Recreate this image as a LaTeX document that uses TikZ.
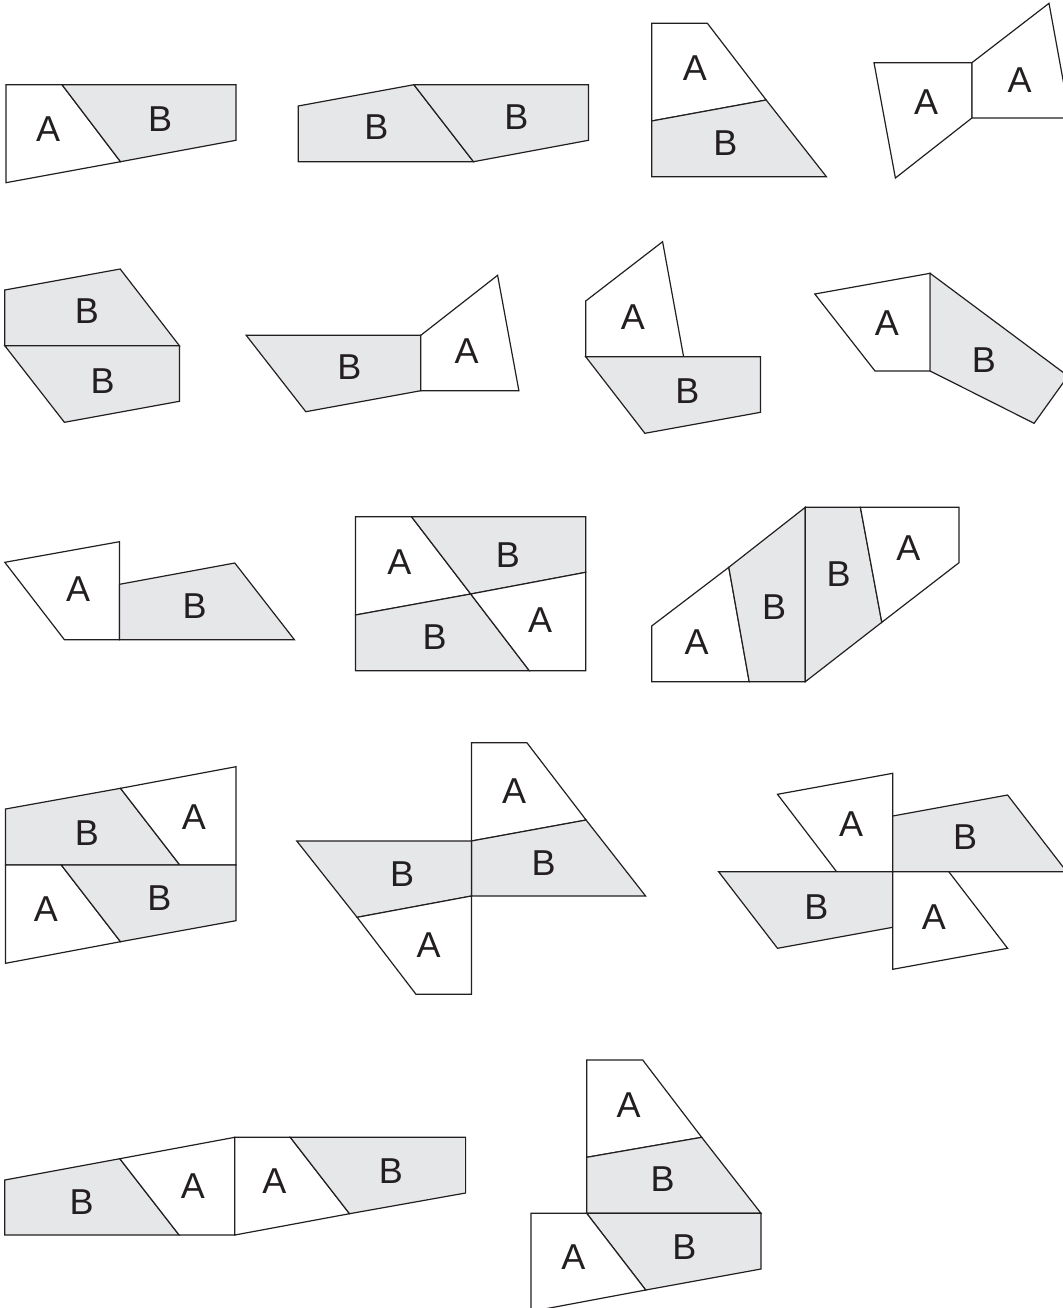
\documentclass[tikz,border=0pt]{standalone}
\usepackage{fontspec}
\setmainfont{Liberation Sans}
\usepackage{xcolor}
\usepackage{tikz}
\definecolor{pieceGrey}{RGB}{230,231,233}
\definecolor{inkDark}{RGB}{35,31,32}

\begin{document}
\begin{tikzpicture}[x=0.5pt, y=-0.5pt, line join=miter,
  pieceA/.style={draw=inkDark, line width=0.6pt, fill=white},
  pieceB/.style={draw=inkDark, line width=0.6pt, fill=pieceGrey},
  lbl/.style={text=inkDark, inner sep=0pt, font=\fontsize{18}{20}\selectfont}]
  \useasboundingbox (0,0) rectangle (1063,1308);
  % row 1
  \draw[pieceA] (5.9,84.7) -- (62,84.7) -- (120.5,161.7) -- (5.9,182.7) -- cycle;
  \draw[pieceB] (62,84.7) -- (235.9,84.7) -- (235.9,140.3) -- (120.5,161.7) -- cycle;
  \node[lbl] (r1a) at (48.2,129.3) {A}; \node[lbl] (r1b) at (160.1,119) {B};
  \draw[pieceB] (298.2,106) -- (413.9,84.7) -- (473.5,161.7) -- (298.2,161.7) -- cycle;
  \draw[pieceB] (413.9,84.7) -- (588.5,84.7) -- (588.5,140.3) -- (473.5,161.7) -- cycle;
  \node[lbl] (r2b) at (376.4,127.3) {B}; \node[lbl] (r2c) at (516.5,117.3) {B};
  \draw[pieceA] (651.7,23.3) -- (707.4,23.3) -- (766.2,100) -- (651.7,121) -- cycle;
  \draw[pieceB] (651.7,121) -- (766.2,100) -- (826.4,176.7) -- (651.7,176.7) -- cycle;
  \node[lbl] (r3a) at (694.9,68.3) {A}; \node[lbl] (r3b) at (725.4,143.3) {B};
  \draw[pieceA] (874,62.7) -- (971.9,62.7) -- (971.9,118) -- (895.4,178) -- cycle;
  \draw[pieceA] (971.9,62.7) -- (1049,3.3) -- (1070,118) -- (971.9,118) -- cycle;
  \node[lbl] (r4a) at (926,101.7) {A}; \node[lbl] (r4c) at (1019.5,80) {A};
  % row 2
  \draw[pieceB] (4.8,290) -- (120.2,269) -- (179.4,345.7) -- (4.8,345.7) -- cycle;
  \draw[pieceB] (4.8,345.7) -- (179.4,345.7) -- (179.4,401.3) -- (64.4,422.3) -- cycle;
  \node[lbl] (r5b) at (86.8,310.7) {B}; \node[lbl] (r5c) at (102.6,380.7) {B};
  \draw[pieceB] (246.2,335.3) -- (420.8,335.3) -- (420.8,390.7) -- (305.8,411.7) -- cycle;
  \draw[pieceA] (420.8,335.3) -- (497.6,275.3) -- (518.9,390.7) -- (420.8,390.7) -- cycle;
  \node[lbl] (r6b) at (349.5,367.3) {B}; \node[lbl] (r6a) at (466.6,350.7) {A};
  \draw[pieceA] (585.7,356.7) -- (585.7,301) -- (662.6,241.7) -- (683.6,356.7) -- cycle;
  \draw[pieceB] (585.7,356.7) -- (760.5,356.7) -- (760.5,412.3) -- (644.9,433.3) -- cycle;
  \node[lbl] (r7a) at (633,317.3) {A}; \node[lbl] (r7b) at (687.4,390.7) {B};
  \draw[pieceA] (814.8,294) -- (930.1,273.3) -- (930.1,371) -- (875,371) -- cycle;
  \draw[pieceB] (930.1,273.3) -- (1068,376) -- (1034.1,423.3) -- (930.1,371) -- cycle;
  \node[lbl] (r8a) at (886.9,322.7) {A}; \node[lbl] (r8b) at (983.8,360) {B};
  % row 3
  \draw[pieceA] (4.8,562.3) -- (119.5,541.7) -- (119.5,639.7) -- (64.4,639.7) -- cycle;
  \draw[pieceB] (119.5,584.3) -- (234.8,563) -- (294.4,639.7) -- (119.5,639.7) -- cycle;
  \node[lbl] (r9a) at (78.2,589.3) {A}; \node[lbl] (r9b) at (194.6,606) {B};
  \draw[pieceA] (355.4,516.7) -- (411.5,516.7) -- (470.7,594) -- (355.4,615) -- cycle;
  \draw[pieceB] (411.5,516.7) -- (585.7,516.7) -- (585.7,572.3) -- (470.7,594) -- cycle;
  \draw[pieceB] (355.4,615) -- (470.7,594) -- (529.3,670.7) -- (355.4,670.7) -- cycle;
  \draw[pieceA] (470.7,594) -- (585.7,572.3) -- (585.7,670.7) -- (529.3,670.7) -- cycle;
  \node[lbl] (r10a) at (399.4,561.7) {A}; \node[lbl] (r10b) at (507.9,555) {B};
  \node[lbl] (r10c) at (434.6,636.7) {B}; \node[lbl] (r10d) at (540.2,620) {A};
  \draw[pieceA] (651.7,681.7) -- (651.7,626) -- (728.8,567.3) -- (749.2,681.7) -- cycle;
  \draw[pieceB] (728.8,567.3) -- (805.3,507.3) -- (805.3,681.7) -- (749.2,681.7) -- cycle;
  \draw[pieceB] (805.3,507.3) -- (860.4,507.3) -- (881.8,622.3) -- (805.3,681.7) -- cycle;
  \draw[pieceA] (860.4,507.3) -- (959,507.3) -- (959,562.7) -- (881.8,622.3) -- cycle;
  \node[lbl] (r11a) at (696.6,641.7) {A}; \node[lbl] (r11b) at (774,606.7) {B};
  \node[lbl] (r11c) at (838.6,574) {B}; \node[lbl] (r11d) at (908.3,548.3) {A};
  % row 4
  \draw[pieceB] (5.5,809) -- (120.5,788.3) -- (179.8,865) -- (5.5,865) -- cycle;
  \draw[pieceA] (120.5,788.3) -- (235.9,766.7) -- (235.9,865) -- (179.8,865) -- cycle;
  \draw[pieceA] (5.5,865) -- (61.3,865) -- (120.5,941.7) -- (5.5,963.3) -- cycle;
  \draw[pieceB] (61.3,865) -- (235.9,865) -- (235.9,920.7) -- (120.5,941.7) -- cycle;
  \node[lbl] (r12b) at (86.8,832.7) {B}; \node[lbl] (r12a) at (193.9,816.7) {A};
  \node[lbl] (r12c) at (45.8,909) {A}; \node[lbl] (r12d) at (159.4,898.3) {B};
  \draw[pieceA] (471.4,742.7) -- (526.9,742.7) -- (586.1,820) -- (471.4,841) -- cycle;
  \draw[pieceB] (471.4,841) -- (586.1,820) -- (645.6,896) -- (471.4,896) -- cycle;
  \draw[pieceB] (296.8,841) -- (471.4,841) -- (471.4,896) -- (357.1,917.3) -- cycle;
  \draw[pieceA] (357.1,917.3) -- (471.4,896) -- (471.4,994.3) -- (416,994.3) -- cycle;
  \node[lbl] (r13a) at (514.1,790.7) {A}; \node[lbl] (r13b) at (543.6,863.3) {B};
  \node[lbl] (r13c) at (402.2,874) {B}; \node[lbl] (r13d) at (428.7,945) {A};
  \draw[pieceA] (777.5,794.3) -- (892.7,773.3) -- (892.7,871.7) -- (836.6,871.7) -- cycle;
  \draw[pieceB] (892.7,816) -- (1007.6,795) -- (1066.7,871.7) -- (892.7,871.7) -- cycle;
  \draw[pieceB] (718.6,871.7) -- (892.7,871.7) -- (892.7,927.3) -- (777.5,948.3) -- cycle;
  \draw[pieceA] (892.7,871.7) -- (948.8,871.7) -- (1007.6,948.3) -- (892.7,969.3) -- cycle;
  \node[lbl] (r14a) at (851.2,824) {A}; \node[lbl] (r14b) at (965.1,837.3) {B};
  \node[lbl] (r14c) at (816.5,907.3) {B}; \node[lbl] (r14d) at (933.8,917.3) {A};
  % row 5
  \draw[pieceB] (4.8,1180) -- (119.8,1158.7) -- (179.1,1235) -- (4.8,1235) -- cycle;
  \draw[pieceA] (119.8,1158.7) -- (234.8,1137.3) -- (234.8,1235) -- (179.1,1235) -- cycle;
  \draw[pieceA] (234.8,1137.3) -- (290.3,1137.3) -- (349.5,1213.7) -- (234.8,1235) -- cycle;
  \draw[pieceB] (290.3,1137.3) -- (465.6,1137.3) -- (465.6,1193) -- (349.5,1213.7) -- cycle;
  \node[lbl] (r15b) at (81.6,1201.7) {B}; \node[lbl] (r15a) at (192.8,1185.7) {A};
  \node[lbl] (r15c) at (274.5,1180.7) {A}; \node[lbl] (r15d) at (390.8,1170.7) {B};
  \draw[pieceA] (586.7,1060) -- (642.7,1060) -- (701.7,1137.3) -- (586.7,1157.3) -- cycle;
  \draw[pieceB] (586.7,1157.3) -- (701.7,1137.3) -- (761,1213.3) -- (586.7,1213.3) -- cycle;
  \draw[pieceB] (586.7,1213.3) -- (761,1213.3) -- (761,1269) -- (645.7,1290) -- cycle;
  \draw[pieceA] (531,1213.3) -- (586.7,1213.3) -- (645.7,1290) -- (531,1311.5) -- cycle;
  \node[lbl] (r16a) at (628.7,1105) {A}; \node[lbl] (r16b) at (662.7,1179.3) {B};
  \node[lbl] (r16c) at (684.3,1246.7) {B}; \node[lbl] (r16d) at (573.3,1257.3) {A};
\end{tikzpicture}
\end{document}
